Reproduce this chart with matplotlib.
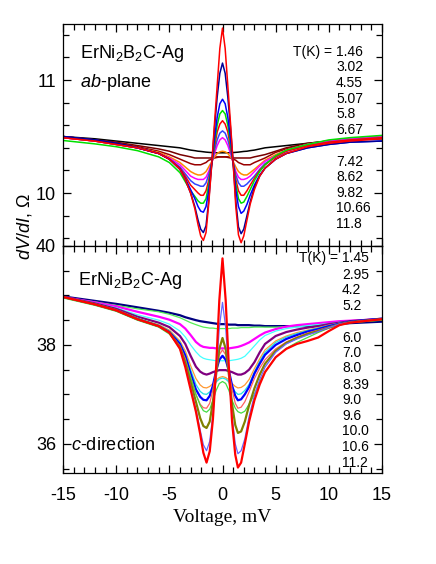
import matplotlib
matplotlib.use('Agg')
import matplotlib.pyplot as plt
from matplotlib.ticker import MultipleLocator, FormatStrFormatter

plt.rcParams['font.family'] = 'Liberation Sans'
plt.rcParams['mathtext.fontset'] = 'custom'
plt.rcParams['mathtext.rm'] = 'Liberation Sans'
plt.rcParams['mathtext.it'] = 'Liberation Sans:italic'
plt.rcParams['axes.unicode_minus'] = False

# ---------------- data: ab-plane ----------------
v_ab = [-15, -12, -10, -8, -6, -5, -4, -3.5, -3, -2.6, -2.3, -2.05, -1.8, -1.55, -1.3, -1.0, -0.75, -0.5, -0.25, 0,
        0.25, 0.5, 0.75, 1.0, 1.25, 1.5, 1.75, 2.0, 2.3, 2.6, 3, 3.5, 4, 5, 6, 8, 10, 12, 15]
temps_ab = ['1.46', '3.02', '4.55', '5.07', '5.8', '6.67', '7.42', '8.62', '9.82', '10.66', '11.8']

ab_146 = [10.49, 10.46, 10.43, 10.40, 10.35, 10.30, 10.21, 10.12, 10.00, 9.86, 9.72, 9.62, 9.58, 9.65, 9.90, 10.27, 10.62, 10.95, 11.28, 11.46,
          11.28, 10.95, 10.62, 10.27, 9.88, 9.63, 9.56, 9.62, 9.76, 9.90, 10.03, 10.15, 10.22, 10.30, 10.35, 10.41, 10.44, 10.46, 10.48]
ab_302 = [10.50, 10.47, 10.44, 10.40, 10.35, 10.30, 10.21, 10.12, 10.00, 9.88, 9.76, 9.68, 9.65, 9.71, 9.93, 10.27, 10.58, 10.85, 11.06, 11.15,
          11.06, 10.85, 10.58, 10.27, 9.93, 9.70, 9.64, 9.68, 9.80, 9.92, 10.05, 10.15, 10.22, 10.30, 10.35, 10.40, 10.43, 10.45, 10.46]
ab_455 = [10.50, 10.47, 10.44, 10.40, 10.35, 10.30, 10.21, 10.13, 10.03, 9.95, 9.88, 9.84, 9.83, 9.88, 10.02, 10.27, 10.48, 10.67, 10.79, 10.83,
          10.79, 10.67, 10.48, 10.27, 10.03, 9.88, 9.82, 9.84, 9.90, 9.98, 10.07, 10.16, 10.22, 10.30, 10.35, 10.40, 10.43, 10.45, 10.46]
ab_507 = [10.465, 10.435, 10.41, 10.375, 10.32, 10.27, 10.18, 10.10, 10.02, 9.97, 9.93, 9.91, 9.91, 9.95, 10.07, 10.27, 10.44, 10.60, 10.70, 10.73,
          10.70, 10.60, 10.44, 10.27, 10.08, 9.95, 9.91, 9.92, 9.97, 10.03, 10.11, 10.19, 10.25, 10.33, 10.38, 10.43, 10.47, 10.49, 10.51]
ab_58 = [10.49, 10.46, 10.43, 10.40, 10.35, 10.30, 10.22, 10.15, 10.07, 10.03, 10.00, 9.98, 9.98, 10.02, 10.11, 10.27, 10.41, 10.54, 10.61, 10.64,
         10.61, 10.54, 10.41, 10.27, 10.12, 10.02, 9.98, 9.98, 10.02, 10.07, 10.13, 10.20, 10.25, 10.32, 10.37, 10.42, 10.45, 10.47, 10.49]
ab_667 = [10.49, 10.46, 10.43, 10.40, 10.35, 10.30, 10.23, 10.17, 10.11, 10.08, 10.07, 10.06, 10.06, 10.09, 10.16, 10.27, 10.38, 10.47, 10.53, 10.55,
          10.53, 10.47, 10.38, 10.27, 10.16, 10.09, 10.06, 10.06, 10.08, 10.11, 10.15, 10.21, 10.26, 10.32, 10.37, 10.42, 10.45, 10.47, 10.49]
ab_742 = [10.49, 10.46, 10.43, 10.40, 10.35, 10.31, 10.25, 10.20, 10.15, 10.13, 10.12, 10.12, 10.12, 10.14, 10.19, 10.27, 10.35, 10.42, 10.47, 10.49,
          10.47, 10.42, 10.35, 10.27, 10.19, 10.14, 10.12, 10.12, 10.13, 10.15, 10.19, 10.24, 10.28, 10.33, 10.38, 10.43, 10.46, 10.48, 10.50]
ab_862 = [10.49, 10.46, 10.43, 10.40, 10.36, 10.32, 10.27, 10.23, 10.19, 10.17, 10.16, 10.16, 10.17, 10.19, 10.23, 10.28, 10.32, 10.35, 10.365, 10.37,
          10.365, 10.35, 10.32, 10.28, 10.23, 10.19, 10.17, 10.16, 10.16, 10.18, 10.21, 10.25, 10.29, 10.34, 10.38, 10.43, 10.46, 10.48, 10.50]
ab_982 = [10.50, 10.47, 10.44, 10.41, 10.37, 10.34, 10.30, 10.28, 10.26, 10.25, 10.25, 10.25, 10.26, 10.27, 10.29, 10.30, 10.31, 10.315, 10.32, 10.32,
          10.32, 10.315, 10.31, 10.30, 10.29, 10.27, 10.26, 10.25, 10.25, 10.25, 10.27, 10.29, 10.31, 10.36, 10.39, 10.43, 10.46, 10.48, 10.49]
ab_1066 = [10.50, 10.47, 10.45, 10.42, 10.39, 10.37, 10.34, 10.33, 10.32, 10.31, 10.31, 10.31, 10.31, 10.31, 10.31, 10.31, 10.315, 10.32, 10.32, 10.32,
           10.32, 10.32, 10.315, 10.31, 10.31, 10.31, 10.31, 10.31, 10.31, 10.31, 10.32, 10.33, 10.34, 10.37, 10.40, 10.44, 10.46, 10.48, 10.49]
ab_118 = [10.50, 10.48, 10.46, 10.44, 10.42, 10.41, 10.40, 10.39, 10.38, 10.375, 10.37, 10.368, 10.365, 10.362, 10.36, 10.358, 10.357, 10.356, 10.356, 10.356,
          10.356, 10.356, 10.357, 10.358, 10.36, 10.362, 10.365, 10.368, 10.37, 10.375, 10.38, 10.39, 10.40, 10.41, 10.42, 10.44, 10.46, 10.47, 10.48]

# ---------------- data: c-direction ----------------
v_c = [-15, -12, -10, -8, -6, -5, -4, -3.5, -3, -2.5, -2.1, -1.8, -1.5, -1.2, -0.9, -0.6, -0.3, 0,
       0.3, 0.6, 0.9, 1.2, 1.45, 1.75, 2.1, 2.5, 3, 3.5, 4, 5, 6, 7, 8, 9, 10, 11, 12, 15]
temps_c = ['1.45', '2.95', '4.2', '5.2', '6.0', '7.0', '8.0', '8.39', '9.0', '9.6', '10.0', '10.6', '11.2']

c_1 = [38.97, 38.82, 38.70, 38.52, 38.38, 38.25, 37.92, 37.55, 37.10, 36.65, 36.20, 35.82, 35.62, 35.85, 36.50, 37.55, 38.90, 39.75,
       38.90, 37.55, 36.45, 35.78, 35.52, 35.62, 36.00, 36.45, 36.88, 37.20, 37.45, 37.75, 37.92, 38.02, 38.08, 38.15, 38.28, 38.40, 38.45, 38.52]
c_2 = [38.97, 38.82, 38.70, 38.52, 38.38, 38.25, 37.93, 37.58, 37.15, 36.70, 36.28, 35.98, 35.86, 36.05, 36.60, 37.40, 38.35, 38.86,
       38.35, 37.40, 36.55, 36.00, 35.80, 35.86, 36.10, 36.55, 36.98, 37.30, 37.55, 37.85, 38.02, 38.12, 38.20, 38.27, 38.35, 38.42, 38.46, 38.52]
c_3 = [38.97, 38.82, 38.70, 38.52, 38.38, 38.25, 37.95, 37.63, 37.25, 36.85, 36.52, 36.36, 36.32, 36.45, 36.85, 37.40, 37.92, 38.14,
       37.92, 37.40, 36.80, 36.38, 36.22, 36.25, 36.45, 36.78, 37.12, 37.40, 37.62, 37.88, 38.04, 38.14, 38.22, 38.28, 38.35, 38.42, 38.46, 38.52]
c_4 = [38.95, 38.80, 38.68, 38.50, 38.36, 38.22, 37.95, 37.68, 37.35, 37.00, 36.78, 36.67, 36.64, 36.70, 36.88, 37.08, 37.22, 37.26,
       37.22, 37.08, 36.88, 36.72, 36.65, 36.62, 36.66, 36.80, 37.00, 37.25, 37.45, 37.75, 37.93, 38.05, 38.15, 38.25, 38.34, 38.40, 38.45, 38.50]
c_5 = [38.97, 38.82, 38.70, 38.52, 38.38, 38.25, 37.98, 37.72, 37.35, 37.00, 36.80, 36.73, 36.72, 36.82, 37.10, 37.48, 37.80, 37.90,
       37.80, 37.48, 37.10, 36.82, 36.72, 36.74, 36.85, 37.05, 37.32, 37.53, 37.70, 37.92, 38.06, 38.16, 38.24, 38.30, 38.36, 38.42, 38.46, 38.52]
c_6 = [38.97, 38.82, 38.70, 38.52, 38.38, 38.26, 38.02, 37.78, 37.42, 37.10, 36.95, 36.89, 36.88, 36.97, 37.18, 37.48, 37.70, 37.78,
       37.70, 37.48, 37.18, 36.97, 36.88, 36.90, 37.00, 37.15, 37.42, 37.62, 37.80, 38.00, 38.12, 38.20, 38.27, 38.32, 38.38, 38.43, 38.47, 38.53]
c_7 = [38.97, 38.83, 38.71, 38.54, 38.40, 38.28, 38.05, 37.82, 37.50, 37.20, 37.06, 37.01, 37.00, 37.05, 37.14, 37.25, 37.31, 37.33,
       37.31, 37.25, 37.14, 37.05, 37.00, 37.01, 37.08, 37.20, 37.45, 37.67, 37.85, 38.05, 38.16, 38.23, 38.29, 38.34, 38.39, 38.44, 38.47, 38.53]
c_8 = [38.97, 38.83, 38.71, 38.54, 38.41, 38.30, 38.08, 37.88, 37.58, 37.32, 37.19, 37.14, 37.13, 37.16, 37.22, 37.29, 37.34, 37.36,
       37.34, 37.29, 37.22, 37.16, 37.13, 37.14, 37.19, 37.30, 37.52, 37.72, 37.90, 38.08, 38.18, 38.25, 38.30, 38.35, 38.40, 38.44, 38.47, 38.53]
c_9 = [38.97, 38.84, 38.73, 38.57, 38.45, 38.36, 38.18, 38.02, 37.78, 37.56, 37.46, 37.42, 37.40, 37.42, 37.45, 37.47, 37.49, 37.49,
       37.49, 37.47, 37.45, 37.42, 37.40, 37.40, 37.43, 37.50, 37.65, 37.85, 38.02, 38.18, 38.26, 38.31, 38.35, 38.38, 38.42, 38.45, 38.48, 38.53]
c_10 = [38.97, 38.85, 38.75, 38.61, 38.50, 38.42, 38.28, 38.16, 38.00, 37.86, 37.77, 37.73, 37.71, 37.70, 37.69, 37.68, 37.68, 37.68,
        37.68, 37.68, 37.69, 37.70, 37.71, 37.73, 37.77, 37.86, 37.98, 38.10, 38.19, 38.28, 38.33, 38.36, 38.39, 38.41, 38.43, 38.46, 38.48, 38.53]
c_11 = [38.97, 38.86, 38.78, 38.67, 38.57, 38.51, 38.42, 38.33, 38.20, 38.06, 37.99, 37.96, 37.95, 37.94, 37.94, 37.93, 37.93, 37.93,
        37.93, 37.93, 37.94, 37.95, 37.96, 37.98, 38.01, 38.05, 38.12, 38.19, 38.25, 38.32, 38.37, 38.40, 38.42, 38.44, 38.46, 38.48, 38.49, 38.52]
c_12 = [38.96, 38.87, 38.80, 38.73, 38.67, 38.62, 38.55, 38.50, 38.45, 38.41, 38.38, 38.36, 38.35, 38.34, 38.34, 38.33, 38.33, 38.33,
        38.33, 38.33, 38.34, 38.34, 38.34, 38.35, 38.35, 38.35, 38.36, 38.36, 38.36, 38.36, 38.37, 38.38, 38.39, 38.41, 38.43, 38.45, 38.47, 38.50]
c_13 = [38.98, 38.89, 38.83, 38.76, 38.69, 38.65, 38.60, 38.56, 38.53, 38.50, 38.48, 38.47, 38.46, 38.45, 38.44, 38.43, 38.42, 38.42,
        38.42, 38.41, 38.41, 38.41, 38.40, 38.40, 38.40, 38.40, 38.39, 38.39, 38.38, 38.38, 38.38, 38.38, 38.38, 38.39, 38.40, 38.42, 38.44, 38.47]

# ---------------- figure ----------------
W, H = 436, 564
fig = plt.figure(figsize=(W / 100, H / 100), dpi=100)
ax1 = fig.add_axes([63 / W, 1 - 246 / H, 319 / W, 222 / H])
ax2 = fig.add_axes([63 / W, 1 - 473 / H, 319 / W, 227 / H])

# top panel curves (drawn high T first so low T sits on top)
ab_curves = [ab_146, ab_302, ab_455, ab_507, ab_58, ab_667, ab_742, ab_862, ab_982, ab_1066, ab_118]
ab_colors = ['#ff0000', '#000099', '#0000ff', '#00e000', '#ff0000', '#3344ff', '#ff00ff',
             '#ff8800', '#990000', '#770000', '#000000']
for y, col in zip(ab_curves[::-1], ab_colors[::-1]):
    ax1.plot(v_ab, y, color=col, lw=1.1)

# bottom panel curves
c_curves = [c_1, c_2, c_3, c_4, c_5, c_6, c_7, c_8, c_9, c_10, c_11, c_12, c_13]
c_colors = ['#ff0000', '#6666ff', '#808000', '#44dd44', '#ff6060', '#0000ff', '#22e0e0',
            '#ff9933', '#800080', '#44ffff', '#ff00ff', '#55ee55', '#000080']
c_widths = [1.6, 0.9, 1.6, 0.9, 0.9, 1.6, 0.9, 0.9, 1.6, 0.9, 1.6, 0.9, 1.6]
for y, col, lw in zip(c_curves[::-1], c_colors[::-1], c_widths[::-1]):
    ax2.plot(v_c, y, color=col, lw=lw)

# axes styling
for ax in (ax1, ax2):
    ax.set_xlim(-15, 15)
    ax.xaxis.set_major_locator(MultipleLocator(5))
    ax.xaxis.set_minor_locator(MultipleLocator(1))
    ax.yaxis.set_major_formatter(FormatStrFormatter('%d'))
    ax.tick_params(which='both', direction='in', top=True, right=True, labelsize=13, pad=5)
    ax.tick_params(which='major', length=6, width=0.9)
    ax.tick_params(which='minor', length=4, width=0.9)
    for s in ax.spines.values():
        s.set_linewidth(0.9)

ax1.set_ylim(9.531, 11.496)
ax1.yaxis.set_major_locator(MultipleLocator(1))
ax1.yaxis.set_minor_locator(MultipleLocator(0.2))
ax1.tick_params(labelbottom=False)

ax2.set_ylim(35.41, 40)
ax2.yaxis.set_major_locator(MultipleLocator(2))
ax2.yaxis.set_minor_locator(MultipleLocator(0.5))
ax2.tick_params(axis='x', pad=10)

ax2.set_xlabel('Voltage, mV', family='Liberation Serif', fontsize=14, labelpad=4)


def px(x, y):
    return x / W, 1 - y / H


# panel annotations
fig.text(*px(80, 58), 'ErNi$_2$B$_2$C-Ag', fontsize=13, va='baseline')
fig.text(*px(80, 87), '$ab$-plane', fontsize=13, va='baseline')
fig.text(*px(78, 285), 'ErNi$_2$B$_2$C-Ag', fontsize=13, va='baseline')
fig.text(*px(71, 450), '$c$-direction', fontsize=13, va='baseline')

fig.text(*px(24, 227), '$dV/dI$, \u03a9', fontsize=13, rotation=90, ha='center', va='center')

# temperature labels
ab_label_y = [52, 67, 83, 99, 114, 130, 162, 177, 193, 208, 224]
fig.text(*px(336, ab_label_y[0]), 'T(K) = ', fontsize=10, ha='right', va='center')
for t, yy in zip(temps_ab, ab_label_y):
    fig.text(*px(336, yy), t, fontsize=10, ha='left', va='center')

c_label_y = [258, 275, 290, 306, 338, 353, 368, 385, 400, 416, 431, 447, 463]
fig.text(*px(342, c_label_y[0]), 'T(K) = ', fontsize=10, ha='right', va='center')
for t, yy in zip(temps_c, c_label_y):
    fig.text(*px(342, yy), t, fontsize=10, ha='left', va='center')

fig.savefig('out.png', dpi=100)
